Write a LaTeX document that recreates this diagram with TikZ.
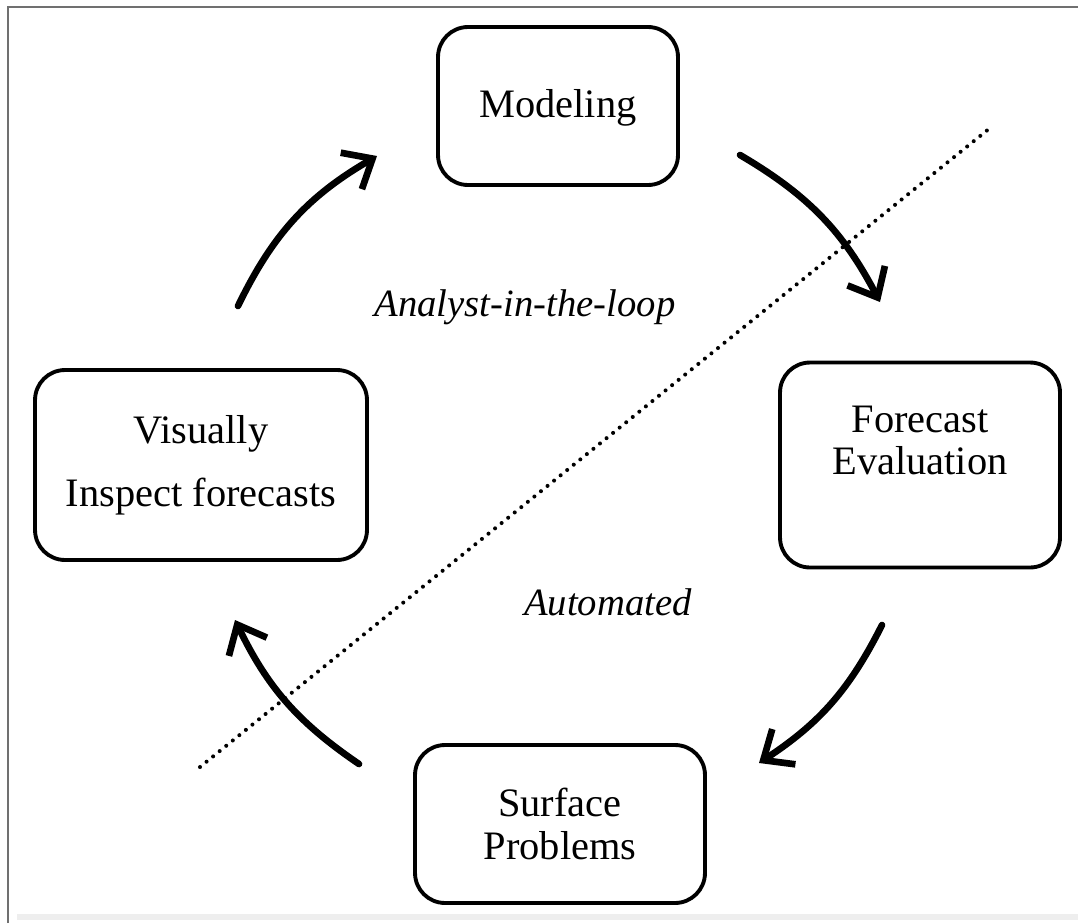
\documentclass[tikz,border=0pt]{standalone}
\usepackage{fontspec}
\setmainfont{Liberation Serif}
\usepackage{tikz}
\usetikzlibrary{arrows.meta,positioning}
\definecolor{ink}{HTML}{000000}
\definecolor{framegray}{HTML}{707070}
\definecolor{stripgray}{HTML}{EEEEEE}

\begin{document}
\begin{tikzpicture}[x=0.02cm,y=0.02cm,
  stagebox/.style={draw=ink,line width=2.2pt,rounded corners=0.6cm,inner sep=0pt,
    align=center,font=\fontsize{23}{24}\selectfont},
  loopedge/.style={-{Straight Barb[length=14pt,width=24pt]},ink,line width=3.8pt,line cap=round},
  zonelabel/.style={font=\fontsize{22}{24}\selectfont\itshape,color=ink}]
  \useasboundingbox (0,0) rectangle (1078,-923);
  % page frame
  \fill[stripgray] (17,-914) rectangle (1078,-920);
  \draw[framegray,line width=1.2pt] (8,-923) -- (8,-7) -- (1078,-7);

  % the four stages
  \node[stagebox,minimum width=4.8cm,minimum height=3.16cm,text depth=0.1cm] (model) at (558,-106) {Modeling};
  \node[stagebox,minimum width=5.6cm,minimum height=4.1cm,text depth=1.0cm] (evalbox) at (920,-465) {Forecast\\Evaluation};
  \node[stagebox,minimum width=5.8cm,minimum height=3.16cm] (surface) at (560,-824) {Surface\\Problems};
  \node[stagebox,minimum width=6.64cm,minimum height=3.8cm] (inspect) at (201,-465) {Visually\\[12pt]Inspect forecasts};

  % boundary between analyst and automated part
  \coordinate (cutlow) at (200,-767);
  \coordinate (cuthigh) at (990,-128);
  \draw[ink,line width=2.3pt,line cap=round,dash pattern=on 0pt off 4.8pt] (cutlow) -- (cuthigh);
  \node[zonelabel] (analyst) at (525,-307) {Analyst-in-the-loop};
  \node[zonelabel] (auto) at (608,-602) {Automated};

  % loop arrows
  \coordinate (a1s) at (740,-155);
  \coordinate (a1e) at (880,-302);
  \coordinate (a2s) at (882,-625);
  \coordinate (a2e) at (759,-763);
  \coordinate (a3s) at (359,-764);
  \coordinate (a3e) at (235,-620);
  \coordinate (a4s) at (238,-306);
  \coordinate (a4e) at (377,-156);
  \draw[loopedge] (a1s) to[bend left=16] (a1e);
  \draw[loopedge] (a2s) to[bend left=15] (a2e);
  \draw[loopedge] (a3s) to[bend left=15] (a3e);
  \draw[loopedge] (a4s) to[bend left=17] (a4e);
\end{tikzpicture}
\end{document}
